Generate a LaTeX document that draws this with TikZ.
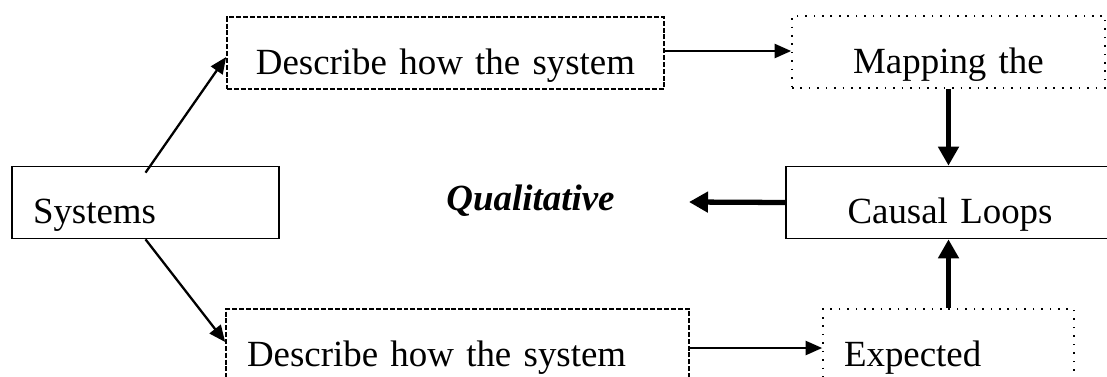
\documentclass[tikz,border=0pt]{standalone}
\usepackage{fontspec}
\setmainfont{Liberation Serif}
\usetikzlibrary{arrows.meta}
\tikzset{
  box/.style={draw, line width=0.95pt, inner xsep=0.42cm, inner ysep=0pt,
    text height=1.14cm, text depth=0.3cm, font=\fontsize{21}{25}\selectfont},
  dashbox/.style={box, dash pattern=on 2.8pt off 1.1pt},
  dotbox/.style={box, dash pattern=on 0.9pt off 3.9pt},
  arr/.style={-{Triangle[length=0.33cm,width=0.28cm]}, line width=1.3pt},
  bigarr/.style={-{Triangle[length=0.38cm,width=0.4cm]}, line width=3pt}
}
\begin{document}
\begin{tikzpicture}
          \useasboundingbox (0,0) rectangle (22.14,7.52);
          \clip (0,0) rectangle (22.14,7.52);
          % left side
          \node[box, text width=4.5cm, align=left] (sys) at (2.91,3.47) {Systems};
          \node[dashbox, text width=7.9cm, align=center] (desc1) at (8.91,6.46) {Describe how the system};
          \node[dashbox, text width=8.42cm, align=left] (desc2) at (9.15,0.62) {Describe how the system};
          % right side
          \node[dotbox, text width=5.42cm, align=center] (map) at (18.97,6.48) {Mapping the};
          \node[box, text width=5.72cm, align=center] (loops) at (19.0,3.47) {Causal Loops};
          \node[dotbox, text width=4.18cm, align=left] (expd) at (18.97,0.62) {Expected};
          % middle
          \node[inner sep=0pt, anchor=base, font=\fontsize{21}{25}\selectfont\bfseries\itshape]
            (qual) at (10.61,3.32) {Qualitative};
          \coordinate (qtip) at (13.78,3.48);
          % thin arrows
          \draw[arr] ([yshift=-0.14cm]sys.north) -- ([yshift=-0.08cm]desc1.west);
          \draw[arr] (sys.south) -- ([yshift=0.06cm]desc2.west);
          \draw[arr] ([yshift=0.04cm]desc1.east) -- ([yshift=0.04cm]desc1.east -| map.west);
          \draw[arr] ([yshift=-0.06cm]desc2.east) -- ([yshift=-0.06cm]desc2.east -| expd.west);
          % thick arrows
          \draw[bigarr] (map.south) -- (map.south |- loops.north);
          \draw[bigarr] (expd.north) -- (expd.north |- loops.south);
          \draw[bigarr] (loops.west) -- (qtip);
        \end{tikzpicture}
\end{document}
